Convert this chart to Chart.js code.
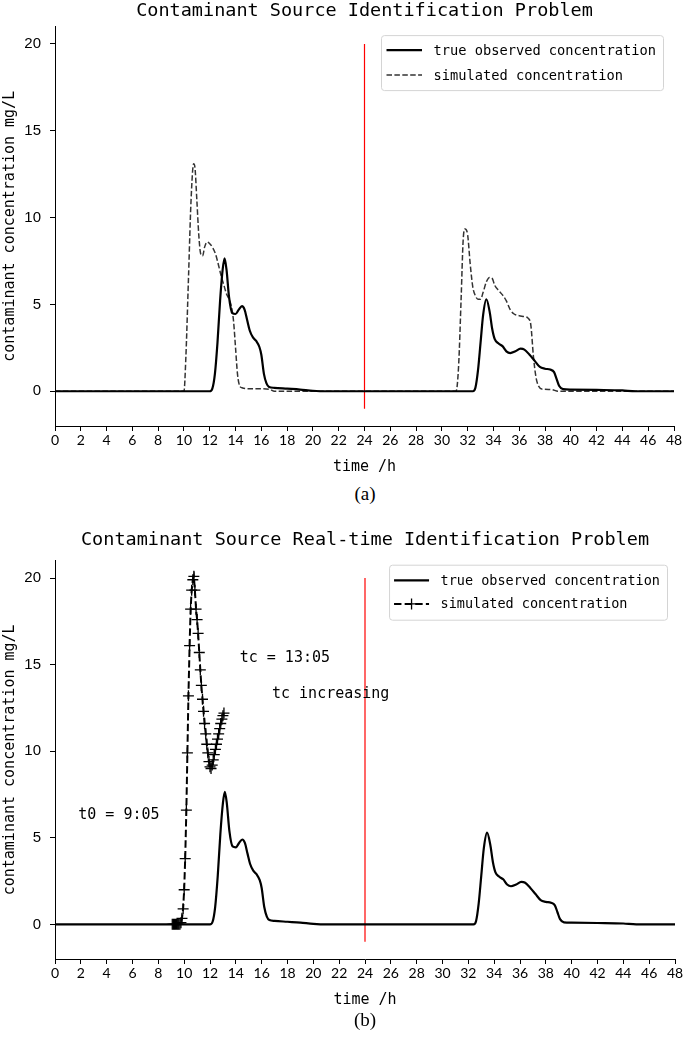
<!DOCTYPE html>
<html><head><meta charset="utf-8">
<script src="https://cdn.jsdelivr.net/npm/chart.js@4.4.1/dist/chart.umd.min.js"></script>
<style>
html,body{margin:0;padding:0;background:#fff;}
#wrap{position:relative;width:685px;height:1043px;overflow:hidden;background:#fff;}
canvas{position:absolute;left:0;}
.cap{position:absolute;left:0;width:730px;text-align:center;font-family:"Liberation Serif","Times New Roman",serif;font-size:19px;color:#000;line-height:22px;}
</style></head><body>
<div id="wrap">
<canvas id="c1" width="685" height="480" style="top:0px"></canvas>
<div class="cap" style="top:483px">(a)</div>
<canvas id="c2" width="685" height="485" style="top:525px"></canvas>
<div class="cap" style="top:1009px">(b)</div>
</div>
<script>
// ---------- data ----------
const xTicks = [0,2,4,6,8,10,12,14,16,18,20,22,24,26,28,30,32,34,36,38,40,42,44,46,48];
const yTicks = [0,5,10,15,20];

const titleA = "Contaminant Source Identification Problem";
const titleB = "Contaminant Source Real-time Identification Problem";
const xTitle = "time /h";
const yTitle = "contaminant concentration mg/L";
const labelTrue = "true observed concentration";
const labelSim = "simulated concentration";

// true observed concentration (same in both panels)
const trueT = [0,12.0,12.2,12.4,12.6,12.8,13.0,13.15,13.3,13.5,13.75,14.0,14.25,14.5,14.7,14.9,15.1,15.35,15.6,15.85,16.0,16.2,16.4,16.6,17.0,18.0,19.0,20.0,21.0,
               32.4,32.6,32.8,33.0,33.2,33.45,33.7,33.9,34.1,34.4,34.7,35.0,35.3,35.7,36.1,36.4,36.8,37.2,37.6,38.0,38.4,38.7,38.9,39.1,39.4,40.0,42.0,44.0,45.0,48.0];
const trueY = [0,0,0.15,1.0,2.8,5.2,7.0,7.65,7.0,5.4,4.5,4.45,4.7,4.9,4.7,4.1,3.5,3.1,2.9,2.55,2.1,1.0,0.45,0.25,0.2,0.15,0.1,0.03,0,
               0,0.2,1.2,2.8,4.4,5.3,4.6,3.6,3.0,2.75,2.6,2.3,2.2,2.3,2.45,2.4,2.1,1.75,1.4,1.3,1.25,1.1,0.7,0.3,0.12,0.1,0.08,0.05,0,0];

// simulated concentration, panel (a)
const simAT = [0,10.0,10.15,10.35,10.55,10.75,10.85,11.0,11.15,11.3,11.45,11.6,11.8,12.0,12.2,12.45,12.7,12.9,13.1,13.3,13.5,13.7,13.85,14.0,14.15,14.3,14.5,15.0,16.0,16.7,17.0,
               31.1,31.3,31.5,31.65,31.8,32.0,32.2,32.4,32.6,32.8,33.0,33.2,33.45,33.7,33.9,34.1,34.4,34.7,35.0,35.3,35.6,36.0,36.4,36.7,36.9,37.1,37.3,37.5,37.8,38.5,39.0,48.0];
const simAY = [0,0,2.0,6.5,11.0,13.1,12.9,11.0,9.0,7.9,7.8,8.3,8.6,8.5,8.3,7.9,7.2,6.6,6.1,5.6,5.3,4.8,4.0,2.5,1.0,0.35,0.2,0.15,0.15,0.1,0,
               0,1.5,5.5,8.7,9.35,9.0,7.3,6.0,5.5,5.3,5.3,5.7,6.3,6.55,6.5,6.1,5.8,5.55,5.2,4.7,4.45,4.35,4.3,4.2,3.8,2.0,0.8,0.3,0.12,0.1,0,0];

// simulated concentration, panel (b): t0 = 9:05 ... tc = 13:05
const simBT = [9.08,9.17,9.25,9.33,9.42,9.5,9.58,9.67,
               9.75,9.83,9.92,10.0,10.08,10.17,10.25,10.33,10.42,10.5,10.58,10.67,10.75,
               10.83,10.92,11.0,11.08,11.17,11.25,11.33,11.42,11.5,11.58,11.67,11.75,11.83,11.92,12.0,12.08,
               12.17,12.25,12.33,12.42,12.5,12.58,12.67,12.75,12.83,12.92,13.0,13.08];
const simBY = [0,0,0,0,0,0,0,0,
               0.1,0.35,0.9,2.0,3.8,6.6,9.9,13.2,16.1,18.2,19.3,19.9,20.1,
               19.3,18.2,17.6,16.8,15.7,14.7,13.8,13.0,12.3,11.6,11.0,10.4,9.9,9.4,9.1,9.0,
               9.2,9.5,9.8,10.1,10.4,10.7,11.0,11.3,11.6,11.85,12.05,12.2];

// red reference line at 24 h
const redT = [24,24];
const redY = [-1,20];

// annotations in panel (b)
const annText = ["tc = 13:05","tc increasing","t0 = 9:05"];
const annT = [14.3,16.8,1.8];
const annY = [15.35,13.3,6.3];

// ---------- helpers ----------
const MONO = "'DejaVu Sans Mono','Liberation Mono',monospace";
const pts = (xs, ys) => xs.map((x,i)=>({x:x, y:ys[i]}));

const boxLegend = {
  id:'boxLegend',
  afterDraw(chart, args, o){
    if(!o || !o.items) return;
    const ctx = chart.ctx, ca = chart.chartArea;
    ctx.save();
    ctx.font = o.font;
    const ds = chart.data.datasets;
    const tw = Math.max(...o.items.map(i=>ctx.measureText(ds[i].label).width));
    const w = o.padL + o.lineLen + o.gap + tw + o.padR;
    const h = o.rowH*o.items.length + o.padT*2;
    const x = ca.right - o.right - w, y = ca.top + o.top;
    ctx.beginPath();
    ctx.roundRect(x+0.5, y+0.5, w, h, 3);
    ctx.fillStyle = 'rgba(255,255,255,0.85)';
    ctx.fill();
    ctx.strokeStyle = '#d4d4d4'; ctx.lineWidth = 1; ctx.stroke();
    o.items.forEach((di,k)=>{
      const d = ds[di];
      const cy = y + o.padT + o.rowH*(k+0.5);
      ctx.strokeStyle = d.borderColor; ctx.lineWidth = d.borderWidth;
      ctx.setLineDash(d.borderDash || []);
      ctx.beginPath(); ctx.moveTo(x+o.padL, cy); ctx.lineTo(x+o.padL+o.lineLen, cy); ctx.stroke();
      ctx.setLineDash([]);
      if (d.pointStyle === 'cross' && d.pointRadius > 0){
        const mx = x+o.padL+o.lineLen/2, r = d.pointRadius;
        ctx.lineWidth = d.pointBorderWidth || 1;
        ctx.beginPath(); ctx.moveTo(mx-r,cy); ctx.lineTo(mx+r,cy); ctx.moveTo(mx,cy-r); ctx.lineTo(mx,cy+r); ctx.stroke();
      }
      ctx.fillStyle = '#000'; ctx.textBaseline = 'middle'; ctx.textAlign = 'left';
      ctx.fillText(d.label, x+o.padL+o.lineLen+o.gap, cy+1);
    });
    ctx.restore();
  }
};

const textNotes = {
  id:'textNotes',
  afterDatasetsDraw(chart, args, o){
    if(!o || !o.texts) return;
    const ctx = chart.ctx, xs = chart.scales.x, ys = chart.scales.y;
    ctx.save();
    ctx.font = o.font; ctx.fillStyle = '#000'; ctx.textBaseline = 'middle'; ctx.textAlign = 'left';
    o.texts.forEach((t,i)=> ctx.fillText(t, xs.getPixelForValue(o.xs[i]), ys.getPixelForValue(o.ys[i])));
    ctx.restore();
  }
};

function scalesCfg(xHeight, xTitlePadB){
  return {
    x:{
      type:'linear', min:0, max:48,
      afterBuildTicks: s => { s.ticks = xTicks.map(v=>({value:v})); },
      afterFit: s => { s.height = xHeight; },
      ticks:{autoSkip:false, maxRotation:0, minRotation:0, padding:1, color:'#000', font:{family:'Lato', size:14}},
      grid:{display:true, drawOnChartArea:false, drawTicks:true, tickLength:5, tickColor:'#000', tickWidth:1},
      border:{display:true, color:'#000', width:1},
      title:{display:true, text:xTitle, color:'#000', font:{family:MONO, size:15}, padding:{top:0, bottom:xTitlePadB}}
    },
    y:{
      type:'linear', min:-2, max:21,
      afterBuildTicks: s => { s.ticks = yTicks.map(v=>({value:v})); },
      afterFit: s => { s.width = 55; },
      ticks:{padding:9, color:'#000', font:{family:"'Liberation Sans',Arial,sans-serif", size:15}},
      grid:{display:true, drawOnChartArea:false, drawTicks:true, tickLength:5, tickColor:'#000', tickWidth:1},
      border:{display:true, color:'#000', width:1},
      title:{display:true, text:yTitle, color:'#000', font:{family:MONO, size:15}, padding:{top:1, bottom:0}}
    }
  };
}

// ---------- panel (a) ----------
new Chart(document.getElementById('c1'), {
  type:'line',
  data:{datasets:[
    {label:labelTrue, data:pts(trueT,trueY), borderColor:'#000', borderWidth:2.2, pointRadius:0, cubicInterpolationMode:'monotone', order:1},
    {label:labelSim, data:pts(simAT,simAY), borderColor:'#333', borderWidth:1.5, borderDash:[5.5,2.4], pointRadius:0, cubicInterpolationMode:'monotone', order:2},
    {label:'', data:pts(redT,redY), borderColor:'#ff0000', borderWidth:1.2, pointRadius:0, order:3}
  ]},
  options:{
    responsive:false, animation:false, devicePixelRatio:1,
    layout:{padding:{top:0, right:11, bottom:0, left:0}},
    scales: scalesCfg(54, 4),
    plugins:{
      legend:{display:false}, tooltip:{enabled:false},
      title:{display:true, text:titleA, fullSize:false, color:'#000', font:{family:MONO, size:18.5, weight:'normal'}, padding:{top:0, bottom:4.4}},
      boxLegend:{items:[0,1], font:"13.7px "+MONO, padL:5.5, lineLen:35.5, gap:11.5, padR:7, rowH:25, padT:2.5, right:11, top:8.5}
    }
  },
  plugins:[boxLegend]
});

// ---------- panel (b) ----------
new Chart(document.getElementById('c2'), {
  type:'line',
  data:{datasets:[
    {label:labelTrue, data:pts(trueT,trueY), borderColor:'#000', borderWidth:2.2, pointRadius:0, cubicInterpolationMode:'monotone', order:2},
    {label:labelSim, data:pts(simBT,simBY), borderColor:'#000', borderWidth:2, borderDash:[7.4,3.2], pointStyle:'cross', pointRadius:5.5, pointBorderWidth:1.3, pointBorderColor:'#000', tension:0, order:1},
    {label:'', data:pts(redT,redY), borderColor:'#ff0000', borderWidth:1.2, pointRadius:0, order:3}
  ]},
  options:{
    responsive:false, animation:false, devicePixelRatio:1,
    layout:{padding:{top:4, right:10, bottom:0, left:0}},
    scales: scalesCfg(51, 1),
    plugins:{
      legend:{display:false}, tooltip:{enabled:false},
      title:{display:true, text:titleB, fullSize:false, color:'#000', font:{family:MONO, size:18.5, weight:'normal'}, padding:{top:0, bottom:9.5}},
      boxLegend:{items:[0,1], font:"13.5px "+MONO, padL:5, lineLen:35, gap:11.5, padR:7, rowH:23.5, padT:4, right:8, top:4},
      textNotes:{texts:annText, xs:annT, ys:annY, font:"15px "+MONO}
    }
  },
  plugins:[boxLegend, textNotes]
});
</script>
</body></html>
